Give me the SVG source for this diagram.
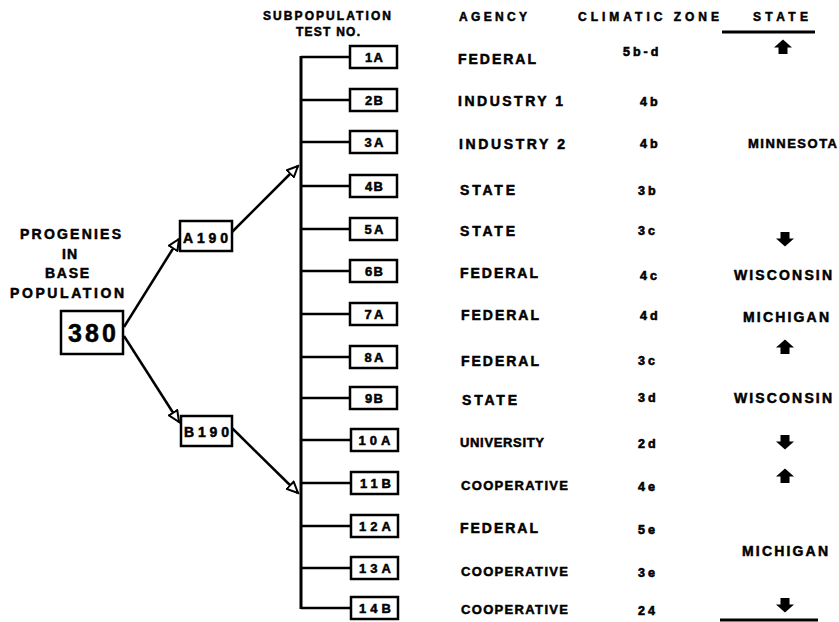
<svg xmlns="http://www.w3.org/2000/svg" width="839" height="622" viewBox="0 0 839 622">
<style>
.t{font-family:"Liberation Sans",Arial,sans-serif;font-weight:bold;font-size:14px;fill:#000;stroke:#000;stroke-width:0.5}
.s{font-size:13px}
.h{font-family:"Liberation Sans",Arial,sans-serif;font-weight:bold;font-size:12px;fill:#000;stroke:#000;stroke-width:0.5}
.z{font-family:"Liberation Sans",Arial,sans-serif;font-weight:bold;font-size:12.5px;letter-spacing:3px;fill:#000;stroke:#000;stroke-width:0.6}
.bl{font-family:"Liberation Sans",Arial,sans-serif;font-weight:bold;font-size:13px;fill:#000;stroke:#000;stroke-width:0.5;text-anchor:middle}
.box{fill:#fff;stroke:#000;stroke-width:2.5}
.ln{stroke:#000;stroke-width:2.5;fill:none}
.bus{stroke:#000;stroke-width:3;fill:none}
.rule{stroke:#000;stroke-width:3}
.blk{fill:#000}
</style>
<defs>
<marker id="open" markerUnits="userSpaceOnUse" markerWidth="14" markerHeight="12" refX="11" refY="5" orient="auto" viewBox="-1 -1 14 12">
<path d="M0,0 L11,5 L0,10 Z" fill="#fff" stroke="#000" stroke-width="2"/>
</marker>
<path id="up" d="M0,-7.5 L9,0.5 L4.5,0.5 L4.5,7 L-4.5,7 L-4.5,0.5 L-9,0.5 Z"/>
<path id="down" d="M0,7.5 L9,-0.5 L4.5,-0.5 L4.5,-7 L-4.5,-7 L-4.5,-0.5 L-9,-0.5 Z"/>
</defs>
<rect width="839" height="622" fill="#fff"/>

<g id="headers">
<text class="h" x="263" y="20" textLength="128" lengthAdjust="spacing">SUBPOPULATION</text>
<text class="h" x="296" y="36" textLength="64" lengthAdjust="spacing">TEST NO.</text>
<text class="h" x="459" y="21" textLength="68" lengthAdjust="spacing">AGENCY</text>
<text class="h" x="578" y="21" textLength="141" lengthAdjust="spacing">CLIMATIC ZONE</text>
<text class="h" x="753" y="21" textLength="55" lengthAdjust="spacing">STATE</text>
<line class="rule" x1="722" y1="32" x2="815" y2="32"/>
<line class="rule" x1="720" y1="620" x2="818" y2="620"/>
</g>

<g id="base-label">
<text class="t" x="20" y="239" textLength="101" lengthAdjust="spacing">PROGENIES</text>
<text class="t" x="62" y="259" textLength="15" lengthAdjust="spacing">IN</text>
<text class="t" x="45" y="278" textLength="44" lengthAdjust="spacing">BASE</text>
<text class="t" x="10" y="298" textLength="114" lengthAdjust="spacing">POPULATION</text>
</g>

<g id="connectors">
<line class="ln" x1="124" y1="327" x2="179" y2="239" marker-end="url(#open)"/>
<line class="ln" x1="124" y1="336" x2="179" y2="422" marker-end="url(#open)"/>
<line class="ln" x1="232" y1="232" x2="298" y2="166" marker-end="url(#open)"/>
<line class="ln" x1="232" y1="428" x2="298" y2="493" marker-end="url(#open)"/>
<line class="bus" x1="301" y1="56" x2="301" y2="609"/>
<path class="ln" d="M301,57H350M301,100H350M301,142H350M301,186H350M301,229H350M301,271H350M301,314H350M301,357H350M301,398H350M301,440H350M301,483H350M301,526H350M301,568H350M301,608H350"/>
</g>

<g id="n380"><rect class="box" x="61" y="311" width="62" height="43"/><text class="t" style="font-size:25px" x="68" y="342" textLength="48" lengthAdjust="spacing">380</text></g>
<g id="nA190"><rect class="box" x="180" y="221" width="52" height="30"/><text class="t" x="183" y="243" textLength="45" lengthAdjust="spacing">A190</text></g>
<g id="nB190"><rect class="box" x="181" y="416" width="51" height="30"/><text class="t" x="184" y="437" textLength="45" lengthAdjust="spacing">B190</text></g>

<g id="t1A"><rect class="box" x="350" y="46" width="47" height="22"/><text class="bl" x="374" y="62" textLength="18" lengthAdjust="spacing">1A</text></g>
<g id="t2B"><rect class="box" x="350" y="89" width="47" height="22"/><text class="bl" x="374" y="105" textLength="18" lengthAdjust="spacing">2B</text></g>
<g id="t3A"><rect class="box" x="350" y="131" width="47" height="22"/><text class="bl" x="374" y="147" textLength="19" lengthAdjust="spacing">3A</text></g>
<g id="t4B"><rect class="box" x="350" y="175" width="47" height="22"/><text class="bl" x="374" y="191" textLength="18" lengthAdjust="spacing">4B</text></g>
<g id="t5A"><rect class="box" x="350" y="218" width="47" height="22"/><text class="bl" x="374" y="234" textLength="19" lengthAdjust="spacing">5A</text></g>
<g id="t6B"><rect class="box" x="350" y="260" width="47" height="22"/><text class="bl" x="374" y="276" textLength="18" lengthAdjust="spacing">6B</text></g>
<g id="t7A"><rect class="box" x="350" y="303" width="47" height="22"/><text class="bl" x="374" y="319" textLength="19" lengthAdjust="spacing">7A</text></g>
<g id="t8A"><rect class="box" x="350" y="346" width="47" height="22"/><text class="bl" x="374" y="362" textLength="19" lengthAdjust="spacing">8A</text></g>
<g id="t9B"><rect class="box" x="350" y="387" width="47" height="22"/><text class="bl" x="374" y="403" textLength="18" lengthAdjust="spacing">9B</text></g>
<g id="t10A"><rect class="box" x="351" y="429" width="47" height="22"/><text class="bl" x="374.5" y="445" textLength="32" lengthAdjust="spacing">10A</text></g>
<g id="t11B"><rect class="box" x="351" y="472" width="47" height="22"/><text class="bl" x="375.5" y="488" textLength="31" lengthAdjust="spacing">11B</text></g>
<g id="t12A"><rect class="box" x="351" y="515" width="47" height="22"/><text class="bl" x="375" y="531" textLength="32" lengthAdjust="spacing">12A</text></g>
<g id="t13A"><rect class="box" x="351" y="557" width="47" height="22"/><text class="bl" x="375" y="573" textLength="32" lengthAdjust="spacing">13A</text></g>
<g id="t14B"><rect class="box" x="351" y="597" width="47" height="22"/><text class="bl" x="375" y="613" textLength="32" lengthAdjust="spacing">14B</text></g>

<g id="agency">
<text class="t" x="458" y="64" textLength="78" lengthAdjust="spacing">FEDERAL</text>
<text class="t" x="458" y="106" textLength="105" lengthAdjust="spacing">INDUSTRY 1</text>
<text class="t" x="459" y="149" textLength="106" lengthAdjust="spacing">INDUSTRY 2</text>
<text class="t" x="460" y="195" textLength="55" lengthAdjust="spacing">STATE</text>
<text class="t" x="460" y="236" textLength="55" lengthAdjust="spacing">STATE</text>
<text class="t" x="460" y="278" textLength="78" lengthAdjust="spacing">FEDERAL</text>
<text class="t" x="461" y="320" textLength="78" lengthAdjust="spacing">FEDERAL</text>
<text class="t" x="461" y="366" textLength="78" lengthAdjust="spacing">FEDERAL</text>
<text class="t" x="462" y="405" textLength="55" lengthAdjust="spacing">STATE</text>
<text class="t s" x="460" y="447" textLength="84" lengthAdjust="spacing">UNIVERSITY</text>
<text class="t s" x="461" y="490" textLength="107" lengthAdjust="spacing">COOPERATIVE</text>
<text class="t" x="460" y="533" textLength="78" lengthAdjust="spacing">FEDERAL</text>
<text class="t s" x="461" y="576" textLength="107" lengthAdjust="spacing">COOPERATIVE</text>
<text class="t s" x="461" y="614" textLength="107" lengthAdjust="spacing">COOPERATIVE</text>
</g>

<g id="zone">
<text class="z" x="623" y="56">5b-d</text>
<text class="z" x="640" y="106">4b</text>
<text class="z" x="640" y="148">4b</text>
<text class="z" x="638" y="195">3b</text>
<text class="z" x="638" y="235">3c</text>
<text class="z" x="640" y="280">4c</text>
<text class="z" x="640" y="320">4d</text>
<text class="z" x="638" y="365">3c</text>
<text class="z" x="638" y="402">3d</text>
<text class="z" x="638" y="448">2d</text>
<text class="z" x="638" y="491">4e</text>
<text class="z" x="638" y="534">5e</text>
<text class="z" x="638" y="577">3e</text>
<text class="z" x="638" y="615">24</text>
</g>

<g id="state">
<use href="#up" class="blk" x="783" y="47"/>
<text class="t s" x="748" y="148" textLength="89" lengthAdjust="spacing">MINNESOTA</text>
<use href="#down" class="blk" x="785" y="239"/>
<text class="t" x="734" y="280" textLength="98" lengthAdjust="spacing">WISCONSIN</text>
<text class="t" x="743" y="322" textLength="86" lengthAdjust="spacing">MICHIGAN</text>
<use href="#up" class="blk" x="785" y="347"/>
<text class="t" x="734" y="403" textLength="98" lengthAdjust="spacing">WISCONSIN</text>
<use href="#down" class="blk" x="785" y="442"/>
<use href="#up" class="blk" x="785" y="476"/>
<text class="t" x="742" y="556" textLength="86" lengthAdjust="spacing">MICHIGAN</text>
<use href="#down" class="blk" x="785" y="605"/>
</g>
</svg>
